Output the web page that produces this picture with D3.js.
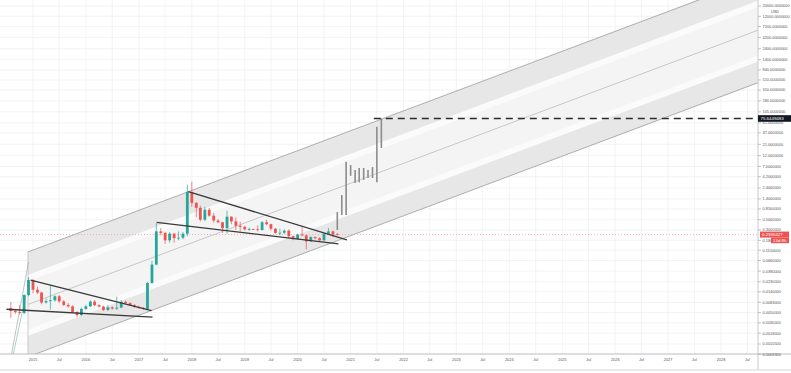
<!DOCTYPE html>
<html>
<head>
<meta charset="utf-8">
<script src="https://cdn.jsdelivr.net/npm/d3@7"></script>
<style>
  html, body { margin: 0; padding: 0; background: #fff; }
  svg { display: block; font-family: "Liberation Sans", Arial, sans-serif; }
</style>
</head>
<body>
<script>
// monthly candles (USD, log scale)
var months = ["2014-08","2014-09","2014-10","2014-11","2014-12",
  "2015-01","2015-02","2015-03","2015-04","2015-05","2015-06","2015-07","2015-08","2015-09","2015-10","2015-11","2015-12",
  "2016-01","2016-02","2016-03","2016-04","2016-05","2016-06","2016-07","2016-08","2016-09","2016-10","2016-11","2016-12",
  "2017-01","2017-02","2017-03","2017-04","2017-05","2017-06","2017-07","2017-08","2017-09","2017-10","2017-11","2017-12",
  "2018-01","2018-02","2018-03","2018-04","2018-05","2018-06","2018-07","2018-08","2018-09","2018-10","2018-11","2018-12",
  "2019-01","2019-02","2019-03","2019-04","2019-05","2019-06","2019-07","2019-08","2019-09","2019-10","2019-11","2019-12",
  "2020-01","2020-02","2020-03","2020-04","2020-05","2020-06","2020-07","2020-08","2020-09","2020-10"];
var opens = [0.0062,0.0054,0.0051,0.0049,0.0119,
  0.0251,0.0155,0.0135,0.0082,0.0088,0.0092,0.0112,0.0087,0.0073,0.0068,0.0051,0.0044,
  0.0060,0.0068,0.0086,0.0072,0.0067,0.0057,0.0065,0.0061,0.0064,0.0085,0.0080,0.0072,
  0.0066,0.0063,0.0060,0.0217,0.054,0.28,0.26,0.18,0.25,0.20,0.205,0.25,
  1.98,1.15,0.90,0.50,0.82,0.61,0.48,0.44,0.33,0.58,0.46,0.37,
  0.35,0.31,0.312,0.31,0.30,0.44,0.40,0.32,0.26,0.262,0.29,0.22,
  0.19,0.24,0.23,0.17,0.21,0.20,0.18,0.25,0.28,0.245];
var highs = [0.0084,0.0060,0.0072,0.0125,0.0291,
  0.0262,0.0180,0.0140,0.0100,0.0190,0.0118,0.0120,0.0093,0.0080,0.0072,0.0054,0.0064,
  0.0074,0.0092,0.0093,0.0077,0.0070,0.0072,0.0068,0.0110,0.0093,0.0091,0.0084,0.0076,
  0.0070,0.0066,0.0230,0.065,0.42,0.33,0.27,0.27,0.26,0.28,0.27,2.85,
  3.30,1.20,1.00,0.95,0.90,0.70,0.52,0.45,0.78,0.59,0.56,0.45,
  0.37,0.34,0.32,0.38,0.47,0.50,0.41,0.33,0.32,0.31,0.31,0.23,
  0.25,0.35,0.24,0.22,0.22,0.21,0.26,0.33,0.29,0.26];
var lows = [0.0038,0.0047,0.0045,0.0046,0.0112,
  0.0130,0.0125,0.0075,0.0078,0.0058,0.0086,0.0080,0.0069,0.0064,0.0049,0.0040,0.0042,
  0.0057,0.0066,0.0069,0.0064,0.0054,0.0054,0.0057,0.0057,0.0062,0.0076,0.0069,0.0063,
  0.0060,0.0057,0.0058,0.021,0.052,0.23,0.15,0.16,0.16,0.18,0.19,0.22,
  0.95,0.56,0.46,0.46,0.58,0.43,0.42,0.26,0.25,0.40,0.30,0.28,
  0.29,0.29,0.30,0.28,0.29,0.38,0.29,0.25,0.23,0.24,0.20,0.18,
  0.19,0.22,0.115,0.17,0.19,0.17,0.17,0.25,0.21,0.23];
var closes = [0.0054,0.0051,0.0049,0.0119,0.0251,
  0.0155,0.0135,0.0082,0.0088,0.0092,0.0112,0.0087,0.0073,0.0068,0.0051,0.0044,0.0060,
  0.0068,0.0086,0.0072,0.0067,0.0057,0.0065,0.0061,0.0064,0.0085,0.0080,0.0072,0.0066,
  0.0063,0.0060,0.0217,0.054,0.28,0.26,0.18,0.25,0.20,0.205,0.25,1.98,
  1.15,0.90,0.50,0.82,0.61,0.48,0.44,0.33,0.58,0.46,0.37,0.35,
  0.31,0.312,0.31,0.30,0.44,0.40,0.32,0.26,0.262,0.29,0.22,0.19,
  0.24,0.23,0.17,0.21,0.20,0.18,0.25,0.28,0.24,0.239];

// projected bars pattern (grey HL bars)
var ghostMonths = ["2020-10","2020-11","2020-12","2021-01","2021-02","2021-03","2021-04","2021-05","2021-06","2021-07","2021-08"];
var ghostHighs = [0.73,1.70,8.8,7.5,5.9,6.5,6.5,5.9,6.8,50,75.64];
var ghostLows = [0.30,0.63,0.63,4.4,3.1,3.2,3.6,3.95,3.95,3.2,17.5];

// wedge lines
var trendFrom = ["2014-12-16","2014-07-02","2017-12-08","2017-05-03"];
var trendFromPrice = [0.0251,0.0059,2.01,0.44];
var trendTo = ["2017-03-29","2017-04-05","2020-12-06","2020-10-09"];
var trendToPrice = [0.0055,0.0040,0.183,0.15];

// thin lines bottom-left
var sketchFrom = ["2014-08-06","2014-08-18"];
var sketchFromPrice = [0.00064,0.00064];
var sketchTo = ["2014-12-01","2014-11-13"];
var sketchToPrice = [0.0612,0.0119];

// channel: upper edge anchors, depth in decades
var channelDates = ["2014-11-27","2027-08-01"];
var channelUpper = [0.101,27000];
var channelDepth = 2.26;

var targetPrice = 75.64, targetLabel = "75.6449483", targetFrom = "2021-06-10";
var lastPrice = 0.239, lastLabel = "0.2390427", countdown = "13d 8h";

var priceTicks = [20000,12000,7200,4200,2400,1400,840,510,310,180,105,61,37,21,12,7,4.2,2.4,1.4,0.85,0.5,0.3,0.18,0.11,0.066,0.039,0.023,0.014,0.0083,0.005,0.003,0.0018,0.00105,0.00063];
var yearTicks = [2015,2016,2017,2018,2019,2020,2021,2022,2023,2024,2025,2026,2027,2028];

var W = 791, H = 373, plotR = 758, plotB = 354;
var parseM = d3.utcParse("%Y-%m"), parseD = d3.utcParse("%Y-%m-%d");

var x = d3.scaleUtc()
    .domain([new Date(Date.UTC(2015,0,1)), new Date(Date.UTC(2028,0,1))])
    .range([33, 721]);
var y = d3.scaleLog().domain([0.3, 180]).range([230, 101]);

var svg = d3.select("body").append("svg").attr("width", W).attr("height", H);

svg.append("defs").append("clipPath").attr("id", "plot")
  .append("rect").attr("x", 0).attr("y", 0).attr("width", plotR).attr("height", plotB);

// grid
var tickDates = [];
yearTicks.forEach(function(yr) {
  tickDates.push({d: new Date(Date.UTC(yr,0,1)), t: String(yr)});
  tickDates.push({d: new Date(Date.UTC(yr,6,1)), t: "Jul"});
});
var grid = svg.append("g").attr("clip-path", "url(#plot)");
grid.selectAll(".vg").data(tickDates).enter().append("line")
  .attr("x1", function(d) { return x(d.d); }).attr("x2", function(d) { return x(d.d); })
  .attr("y1", 0).attr("y2", plotB)
  .attr("stroke", "#eef0f2").attr("stroke-width", 0.8);
grid.selectAll(".hg").data(priceTicks).enter().append("line")
  .attr("x1", 0).attr("x2", plotR)
  .attr("y1", function(d) { return y(d); }).attr("y2", function(d) { return y(d); })
  .attr("stroke", "#eef0f2").attr("stroke-width", 0.8);

// channel
var c0 = parseD(channelDates[0]), c1 = parseD(channelDates[1]);
var l0 = Math.log10(channelUpper[0]), l1 = Math.log10(channelUpper[1]);
var cEnd = new Date(Date.UTC(2030,0,1));
function upLog(t) { return l0 + (l1 - l0) * (t - c0) / (c1 - c0); }
function chanPt(t, f) { return [x(t), y(Math.pow(10, upLog(t) - f * channelDepth))]; }
function band(fa, fb) {
  return [chanPt(c0, fa), chanPt(cEnd, fa), chanPt(cEnd, fb), chanPt(c0, fb)];
}
var chan = svg.append("g").attr("clip-path", "url(#plot)");
var bands = [[0,1,"#f4f4f5"],[0,0.22,"#e7e7e8"],[0.22,0.28,"#fbfbfb"],[0.74,0.80,"#fbfbfb"],[0.80,1,"#e7e7e8"]];
chan.selectAll(".band").data(bands).enter().append("polygon")
  .attr("points", function(d) { return band(d[0], d[1]).join(" "); })
  .attr("fill", function(d) { return d[2]; });
var chanLines = [[0,"#9c9c9c",0.8],[1,"#9c9c9c",0.8],[0.5,"#b4b4b4",0.7]];
chan.selectAll(".cl").data(chanLines).enter().append("line")
  .attr("x1", function(d) { return chanPt(c0, d[0])[0]; })
  .attr("y1", function(d) { return chanPt(c0, d[0])[1]; })
  .attr("x2", function(d) { return chanPt(cEnd, d[0])[0]; })
  .attr("y2", function(d) { return chanPt(cEnd, d[0])[1]; })
  .attr("stroke", function(d) { return d[1]; }).attr("stroke-width", function(d) { return d[2]; });
chan.append("line")
  .attr("x1", chanPt(c0, 0)[0]).attr("y1", chanPt(c0, 0)[1])
  .attr("x2", chanPt(c0, 1)[0]).attr("y2", chanPt(c0, 1)[1])
  .attr("stroke", "#b8b8b8").attr("stroke-width", 0.7);

var marks = svg.append("g").attr("clip-path", "url(#plot)");

// last price dotted line
marks.append("line")
  .attr("x1", 0).attr("x2", plotR).attr("y1", y(lastPrice)).attr("y2", y(lastPrice))
  .attr("stroke", "#f3a09e").attr("stroke-width", 0.8).attr("stroke-dasharray", "1,2");

// thin sketch lines
var sketchCol = ["#a9a9a9", "#7fc7a0"];
sketchFrom.forEach(function(d, i) {
  marks.append("line")
    .attr("x1", x(parseD(d))).attr("y1", y(sketchFromPrice[i]))
    .attr("x2", x(parseD(sketchTo[i]))).attr("y2", y(sketchToPrice[i]))
    .attr("stroke", sketchCol[i]).attr("stroke-width", 0.7);
});

// candles
var candles = months.map(function(m, i) {
  return {t: parseM(m), o: opens[i], h: highs[i], l: lows[i], c: closes[i]};
});
var cw = 2.8;
var cg = marks.selectAll(".candle").data(candles).enter().append("g");
cg.append("line")
  .attr("x1", function(d) { return x(d.t); }).attr("x2", function(d) { return x(d.t); })
  .attr("y1", function(d) { return y(d.h); }).attr("y2", function(d) { return y(d.l); })
  .attr("stroke", function(d) { return d.c >= d.o ? "#26a69a" : "#ef5350"; })
  .attr("stroke-width", 0.7);
cg.append("rect")
  .attr("x", function(d) { return x(d.t) - cw / 2; })
  .attr("width", cw)
  .attr("y", function(d) { return y(Math.max(d.o, d.c)); })
  .attr("height", function(d) { return Math.max(0.8, Math.abs(y(d.o) - y(d.c))); })
  .attr("fill", function(d) { return d.c >= d.o ? "#26a69a" : "#ef5350"; });

// projected grey bars
marks.selectAll(".ghost").data(ghostMonths).enter().append("line")
  .attr("x1", function(d) { return x(parseM(d)); }).attr("x2", function(d) { return x(parseM(d)); })
  .attr("y1", function(d, i) { return y(ghostHighs[i]); })
  .attr("y2", function(d, i) { return y(ghostLows[i]); })
  .attr("stroke", "#8c8c8c").attr("stroke-width", 1.6);

// wedge trend lines
trendFrom.forEach(function(d, i) {
  marks.append("line")
    .attr("x1", x(parseD(d))).attr("y1", y(trendFromPrice[i]))
    .attr("x2", x(parseD(trendTo[i]))).attr("y2", y(trendToPrice[i]))
    .attr("stroke", "#3a3a3a").attr("stroke-width", 1.3);
});

// target dashed line
marks.append("line")
  .attr("x1", x(parseD(targetFrom))).attr("x2", plotR)
  .attr("y1", y(targetPrice)).attr("y2", y(targetPrice))
  .attr("stroke", "#2b2b2b").attr("stroke-width", 1.5).attr("stroke-dasharray", "7,5");

// frame
svg.append("line").attr("x1", plotR).attr("x2", plotR).attr("y1", 0).attr("y2", 370)
  .attr("stroke", "#c9cbcf").attr("stroke-width", 1);
svg.append("line").attr("x1", 0).attr("x2", W).attr("y1", plotB).attr("y2", plotB)
  .attr("stroke", "#b9bcc1").attr("stroke-width", 1);
svg.append("line").attr("x1", 0).attr("x2", W).attr("y1", 370).attr("y2", 370)
  .attr("stroke", "#d6d8db").attr("stroke-width", 1);

// time axis labels
svg.selectAll(".xt").data(tickDates).enter().append("text")
  .attr("x", function(d) { return x(d.d); }).attr("y", 359.5).attr("dy", "0.35em")
  .attr("text-anchor", "middle").attr("font-size", 3.9).attr("fill", "#555")
  .text(function(d) { return d.t; });

// price axis
var pa = svg.append("g");
pa.selectAll(".tk").data(priceTicks).enter().append("line")
  .attr("x1", plotR).attr("x2", plotR + 3)
  .attr("y1", function(d) { return y(d); }).attr("y2", function(d) { return y(d); })
  .attr("stroke", "#9a9a9a").attr("stroke-width", 0.6);
pa.selectAll(".pt").data(priceTicks).enter().append("text")
  .attr("x", plotR + 4.5).attr("y", function(d) { return y(d); }).attr("dy", "0.35em")
  .attr("font-size", 3.9).attr("fill", "#555")
  .text(function(d) { return d.toFixed(7); });
pa.append("rect").attr("x", plotR + 4).attr("y", 10.2).attr("width", 26).attr("height", 3.8).attr("fill", "#fff");
pa.append("text").attr("x", plotR + 17).attr("y", 12.1).attr("dy", "0.35em")
  .attr("text-anchor", "middle").attr("font-size", 3.9).attr("fill", "#555").text("USD");

// target label
pa.append("rect").attr("x", plotR).attr("y", y(targetPrice) - 3.3).attr("width", 33).attr("height", 6.6)
  .attr("fill", "#131722");
pa.append("text").attr("x", plotR + 2.5).attr("y", y(targetPrice)).attr("dy", "0.35em")
  .attr("font-size", 4.4).attr("fill", "#fff").text(targetLabel);

// last price + countdown
var ly = y(lastPrice);
pa.append("rect").attr("x", plotR + 2).attr("y", ly - 3).attr("width", 29).attr("height", 6)
  .attr("fill", "#ef5350");
pa.append("text").attr("x", plotR + 4).attr("y", ly).attr("dy", "0.35em")
  .attr("font-size", 4.4).attr("fill", "#fff").text(lastLabel);
pa.append("rect").attr("x", plotR + 13).attr("y", ly + 3).attr("width", 18).attr("height", 5.6)
  .attr("fill", "#ef5350");
pa.append("text").attr("x", plotR + 15).attr("y", ly + 5.8).attr("dy", "0.35em")
  .attr("font-size", 4.4).attr("fill", "#fff").text(countdown);
</script>
</body>
</html>
